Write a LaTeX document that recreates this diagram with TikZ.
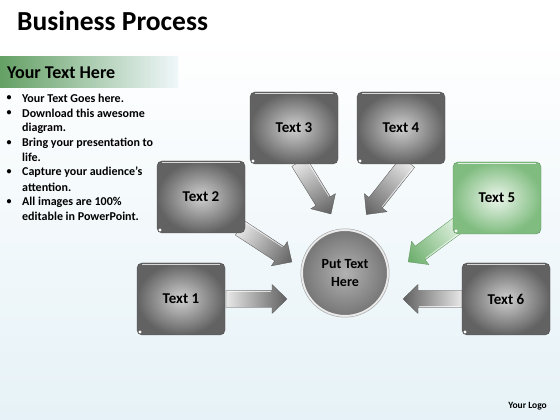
\documentclass[tikz,border=0pt]{standalone}
\usepackage{fontspec}
\setmainfont{Carlito}
\definecolor{bgb}{RGB}{230,242,247}
\definecolor{hdrg}{RGB}{100,160,100}
\definecolor{glight}{RGB}{222,240,222}
\definecolor{gdark}{RGB}{105,172,105}
\definecolor{gin}{RGB}{236,246,236}
\definecolor{gout}{RGB}{128,188,128}
\definecolor{alight}{RGB}{232,232,232}
\definecolor{adark}{RGB}{96,96,96}
\definecolor{boxin}{RGB}{208,208,208}
\definecolor{boxout}{RGB}{98,98,98}
\definecolor{cin}{RGB}{178,178,178}
\definecolor{cout}{RGB}{118,118,118}
\newcommand\barrow[6]{%
  \begin{scope}[transform canvas={shift={(#1,#2)},rotate=#3}]
    \shade[left color=#5, right color=#6, draw=#6!85!black, line width=0.3pt]
      (0,-8.5) -- (#4-15,-8.5) -- (#4-15,-14.5) -- (#4,0) -- (#4-15,14.5) -- (#4-15,8.5) -- (0,8.5) -- cycle;
    \draw[white, line width=0.8pt, opacity=0.7] (2,7.5) -- (#4-16,7.5);
  \end{scope}}
\begin{document}
\begin{tikzpicture}[x=1pt,y=1pt,
  boxn/.style={rectangle, rounded corners=5pt, minimum width=88pt, minimum height=72pt,
    inner color=boxin, outer color=boxout, draw=boxout!80!black, line width=0.4pt,
    font=\fontsize{15}{17}\selectfont\bfseries},
  greenbox/.style={boxn, inner color=gin, outer color=gout, draw=gout!75!black},
  bul/.style={anchor=west, inner sep=0pt, font=\fontsize{12}{14}\selectfont\bfseries},
  dot/.style={anchor=center, inner sep=0pt, font=\fontsize{10}{12}\selectfont\bfseries}]
\useasboundingbox (0,0) rectangle (560,420);
\shade[top color=white, bottom color=bgb] (0,0) rectangle (560,385);
\fill[white] (0,385) rectangle (560,420);
% header band
\shade[left color=hdrg, right color=bgb!60!white] (0,332) rectangle (178,363);
\node[anchor=west, inner sep=0pt, font=\fontsize{27.5}{30}\selectfont\bfseries] (title) at (17,399) {Business Process};
\node[anchor=west, inner sep=0pt, font=\fontsize{18}{20}\selectfont\bfseries] (hdr) at (7,347) {Your Text Here};
% bullet list
\foreach \t/\yy/\b [count=\i] in {Your Text Goes here./322/1, Download this awesome/307/1, diagram./292/0,
  Bring your presentation to/277/1, life./263/0, Capture your audience’s/248/1, attention./233/0,
  All images are 100\%/218/1, editable in PowerPoint./204/0}{
  \node[bul] (l\i) at (22,\yy) {\t};
  \ifnum\b=1 \node[dot] (d\i) at (9,\yy) {•};\fi
}
% arrows
\barrow{226}{121}{0}{61}{alight}{adark}
\barrow{240}{192}{-33.2}{62}{alight}{adark}
\barrow{299}{258}{-58.4}{61}{alight}{adark}
\barrow{408}{258}{-128.4}{67}{alight}{adark}
\barrow{458}{195}{-143.5}{62}{glight}{gdark}
\barrow{462}{121}{180}{59}{alight}{adark}
% boxes
\node[boxn] (b1) at (181,121) {Text 1};
\node[boxn] (b2) at (201,223) {Text 2};
\node[boxn] (b3) at (294,292) {Text 3};
\node[boxn] (b4) at (401,292) {Text 4};
\node[greenbox] (b5) at (497,222) {Text 5};
\node[boxn] (b6) at (506,121) {Text 6};
\foreach \n in {b1,b2,b3,b4,b5,b6}{
  \draw[white, line width=1.2pt, opacity=0.75] ([xshift=5pt,yshift=-1.4pt]\n.north west) -- ([xshift=-5pt,yshift=-1.4pt]\n.north east);
  \fill[white] ([shift={(3.2,3.2)}]\n.south west) circle (1.6pt);
}
% center circle
\node[circle, minimum size=86pt, inner color=cin, outer color=cout, draw=white!85!gray, line width=2pt,
  align=center, font=\fontsize{14}{18}\selectfont\bfseries] (c) at (345,147) {Put Text\\Here};
\draw[gray!70, line width=0.5pt] (c.center) circle (44.2);
\node[anchor=east, inner sep=0pt, font=\fontsize{9.5}{11}\selectfont\bfseries] (logo) at (547,14) {Your Logo};
\end{tikzpicture}
\end{document}
